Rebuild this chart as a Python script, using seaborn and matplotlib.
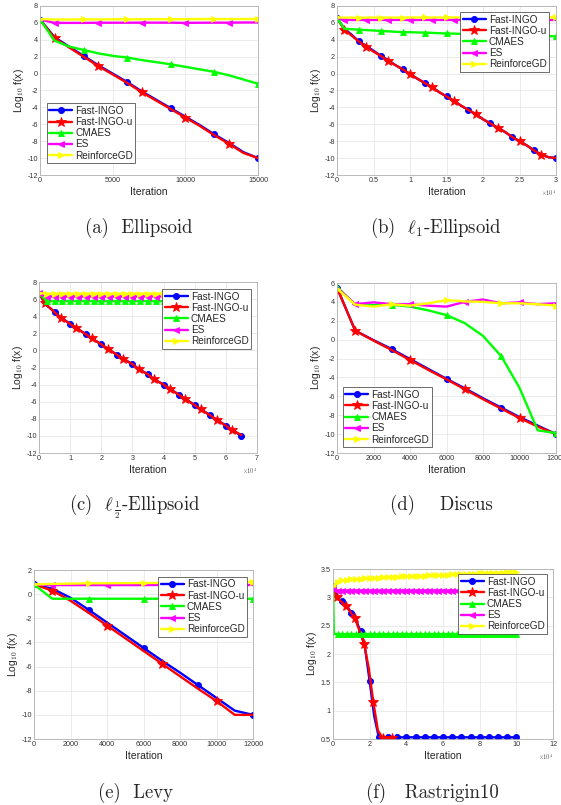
import matplotlib
matplotlib.use("Agg")
import matplotlib.pyplot as plt
import matplotlib.ticker as mticker
import seaborn as sns

# ── Data ─────────────────────────────────────────────────────────────
NAMES = ["Fast-INGO", "Fast-INGO-u", "CMAES", "ES", "ReinforceGD"]

# (a) Ellipsoid
A_ITER = [0, 1000, 2000, 3000, 4000, 5000, 6000, 7000, 8000, 9000, 10000,
          11000, 12000, 13000, 14000, 15000]
A_FAST = [6.4, 4.3, 3.2, 2.1, 1.0, 0.0, -1.0, -2.1, -3.1, -4.1, -5.1, -6.1,
          -7.2, -8.2, -9.3, -10.0]
A_FASTU = [6.4, 4.2, 3.1, 2.0, 0.9, -0.1, -1.1, -2.2, -3.2, -4.2, -5.2, -6.2,
           -7.3, -8.3, -9.4, -10.0]
A_CMAES = [6.4, 3.9, 3.2, 2.8, 2.4, 2.1, 1.9, 1.6, 1.35, 1.1, 0.8, 0.5, 0.2,
           -0.2, -0.7, -1.2]
A_ES = [6.4, 6.0, 6.0, 6.0, 6.02, 6.02, 6.02, 6.03, 6.03, 6.03, 6.0, 6.02,
        6.03, 6.03, 6.05, 6.05]
A_RGD = [6.45, 6.4, 6.4, 6.42, 6.42, 6.43, 6.43, 6.43, 6.44, 6.44, 6.44,
         6.45, 6.45, 6.45, 6.46, 6.46]

# (b) l1-Ellipsoid
B_ITER = [0, 1000, 2000, 3000, 4000, 5000, 6000, 7000, 8000, 9000, 10000,
          11000, 12000, 13000, 14000, 15000, 16000, 17000, 18000, 19000,
          20000, 21000, 22000, 23000, 24000, 25000, 26000, 27000, 28000,
          29000, 30000]
B_FAST = [6.6, 5.3, 4.6, 3.8, 3.3, 2.7, 2.1, 1.6, 1.0, 0.5, -0.1, -0.6, -1.1,
          -1.6, -2.2, -2.7, -3.2, -3.8, -4.3, -4.8, -5.4, -5.9, -6.4, -6.9,
          -7.5, -8.0, -8.5, -9.1, -9.6, -9.9, -10.0]
B_FASTU = [6.6, 5.2, 4.5, 3.8, 3.2, 2.6, 2.1, 1.5, 1.0, 0.5, 0.0, -0.6, -1.1,
           -1.6, -2.2, -2.7, -3.2, -3.8, -4.3, -4.8, -5.4, -5.9, -6.4, -6.9,
           -7.5, -8.0, -8.5, -9.1, -9.6, -9.9, -10.0]
B_CMAES = [6.6, 5.3, 5.25, 5.2, 5.15, 5.1, 5.05, 5.0, 4.95, 4.9, 4.9, 4.87,
           4.85, 4.82, 4.78, 4.75, 4.73, 4.7, 4.68, 4.66, 4.64, 4.62, 4.6,
           4.58, 4.56, 4.54, 4.52, 4.5, 4.47, 4.44, 4.4]
B_ES = [6.6, 6.35, 6.35, 6.35, 6.35, 6.35, 6.35, 6.35, 6.35, 6.35, 6.35,
        6.35, 6.35, 6.35, 6.35, 6.35, 6.35, 6.35, 6.35, 6.35, 6.35, 6.35,
        6.35, 6.35, 6.35, 6.35, 6.35, 6.35, 6.35, 6.35, 6.35]
B_RGD = [6.65, 6.62, 6.62, 6.62, 6.62, 6.63, 6.63, 6.63, 6.63, 6.63, 6.64,
         6.64, 6.64, 6.64, 6.64, 6.64, 6.65, 6.65, 6.65, 6.65, 6.65, 6.65,
         6.65, 6.66, 6.66, 6.66, 6.66, 6.66, 6.66, 6.66, 6.66]

# (c) l_{1/2}-Ellipsoid
C_ITER = [0, 2000, 5000, 7000, 10000, 12000, 15000, 17000, 20000, 22000,
          25000, 27000, 30000, 32000, 35000, 37000, 40000, 42000, 45000,
          47000, 50000, 52000, 55000, 57000, 60000, 62000, 65000]
C_FAST = [6.7, 5.4, 4.5, 3.85, 3.1, 2.6, 1.9, 1.4, 0.7, 0.2, -0.5, -1.0,
          -1.6, -2.2, -2.8, -3.4, -4.0, -4.5, -5.2, -5.7, -6.4, -6.9, -7.6,
          -8.1, -8.8, -9.3, -10.0]
C_FASTU = [6.7, 5.5, 4.45, 3.8, 3.1, 2.6, 1.9, 1.4, 0.7, 0.2, -0.5, -1.0,
           -1.6, -2.2, -2.8, -3.4, -4.0, -4.5, -5.2, -5.7, -6.4, -6.9, -7.6,
           -8.1, -8.8, -9.3, -9.9]
C_ITER_FLAT = [0, 2500, 5000, 7500, 10000, 12500, 15000, 17500, 20000, 22500,
               25000, 27500, 30000, 32500, 35000, 37500, 40000, 42500, 45000,
               47500, 50000, 52500, 55000, 57500, 60000, 62500, 65000]
C_CMAES = [6.7, 5.75, 5.75, 5.75, 5.75, 5.75, 5.75, 5.75, 5.75, 5.75, 5.75,
           5.75, 5.75, 5.75, 5.75, 5.75, 5.75, 5.75, 5.75, 5.75, 5.75, 5.75,
           5.75, 5.75, 5.75, 5.75, 5.75]
C_ES = [6.7, 6.3, 6.3, 6.3, 6.3, 6.3, 6.3, 6.3, 6.3, 6.3, 6.3, 6.3, 6.3, 6.3,
        6.3, 6.3, 6.3, 6.3, 6.3, 6.3, 6.3, 6.3, 6.3, 6.3, 6.3, 6.3, 6.3]
C_RGD = [6.7, 6.65, 6.65, 6.65, 6.65, 6.65, 6.65, 6.65, 6.65, 6.65, 6.65,
         6.65, 6.65, 6.65, 6.65, 6.65, 6.65, 6.65, 6.65, 6.65, 6.65, 6.65,
         6.65, 6.65, 6.65, 6.65, 6.65]

# (d) Discus
D_ITER = [0, 1000, 2000, 3000, 4000, 5000, 6000, 7000, 8000, 9000, 10000,
          11000, 12000]
D_FAST = [5.5, 0.95, -0.05, -1.0, -2.05, -3.1, -4.15, -5.15, -6.2, -7.2,
          -8.2, -9.1, -10.0]
D_FASTU = [5.5, 0.95, -0.1, -1.1, -2.15, -3.2, -4.2, -5.25, -6.3, -7.3,
           -8.3, -9.2, -10.0]
D_CMAES = [5.6, 3.7, 3.65, 3.7, 3.5, 3.1, 2.6, 1.75, 0.4, -1.75, -5.1, -9.6,
           -9.9]
D_ES = [5.5, 3.75, 3.95, 3.75, 3.75, 3.6, 3.5, 4.0, 4.25, 3.85, 3.95, 3.75,
        3.85]
D_RGD = [5.4, 3.7, 3.5, 3.75, 3.6, 3.85, 4.2, 4.05, 4.0, 3.85, 3.85, 3.75,
         3.6]

# (e) Levy
E_ITER = [0, 1000, 2000, 3000, 4000, 5000, 6000, 7000, 8000, 9000, 10000,
          11000, 12000]
E_FAST = [0.8, 0.45, -0.3, -1.3, -2.35, -3.4, -4.45, -5.5, -6.5, -7.55,
          -8.6, -9.65, -10.0]
E_FASTU = [0.8, 0.3, -0.55, -1.55, -2.6, -3.65, -4.7, -5.75, -6.8, -7.85,
           -8.85, -10.0, -10.0]
E_CMAES = [0.8, -0.38, -0.38, -0.38, -0.38, -0.38, -0.38, -0.38, -0.38,
           -0.38, -0.38, -0.38, -0.38]
E_ES = [0.8, 0.75, 0.75, 0.75, 0.75, 0.75, 0.75, 0.76, 0.76, 0.76, 0.76,
        0.76, 0.76]
E_RGD = [0.8, 0.85, 0.87, 0.9, 0.9, 0.91, 0.92, 0.93, 0.94, 0.95, 0.97,
         0.99, 1.02]

# (f) Rastrigin10
F_ITER = [0, 2500, 5000, 7500, 10000, 12500, 15000, 17500, 20000, 22500,
          25000, 27500, 30000, 32500, 35000, 37500, 40000, 42500, 45000,
          47500, 50000, 52500, 55000, 57500, 60000, 62500, 65000, 67500,
          70000, 72500, 75000, 77500, 80000, 82500, 85000, 87500, 90000,
          92500, 95000, 97500, 100000]
F_FAST = [3.2, 2.97, 2.93, 2.85, 2.73, 2.6, 2.4, 2.1, 1.52, 0.9, 0.53, 0.53,
          0.53, 0.53, 0.53, 0.53, 0.53, 0.53, 0.53, 0.53, 0.53, 0.53, 0.53,
          0.53, 0.53, 0.53, 0.53, 0.53, 0.53, 0.53, 0.53, 0.53, 0.53, 0.53,
          0.53, 0.53, 0.53, 0.53, 0.53, 0.53, 0.53]
F_ITER_U = [0, 2000, 7000, 12000, 17000, 19500, 22000, 24500, 27000, 32000]
F_FASTU = [3.15, 3.0, 2.85, 2.63, 2.18, 1.75, 1.15, 0.65, 0.52, 0.52]
F_ITER_CMA = [0, 500, 2500, 5000, 7500, 10000, 12500, 15000, 17500, 20000,
              22500, 25000, 27500, 30000, 32500, 35000, 37500, 40000, 42500,
              45000, 47500, 50000, 52500, 55000, 57500, 60000, 62500, 65000,
              67500, 70000, 72500, 75000, 77500, 80000, 82500, 85000, 87500,
              90000, 92500, 95000, 97500, 100000]
F_CMAES = [3.2, 2.35, 2.35, 2.35, 2.35, 2.35, 2.35, 2.35, 2.35, 2.35, 2.35,
           2.35, 2.35, 2.35, 2.35, 2.35, 2.35, 2.35, 2.35, 2.35, 2.35, 2.35,
           2.35, 2.35, 2.35, 2.35, 2.35, 2.35, 2.35, 2.35, 2.35, 2.35, 2.35,
           2.35, 2.35, 2.35, 2.35, 2.35, 2.35, 2.35, 2.35, 2.35]
F_ES = [3.15, 3.12, 3.12, 3.12, 3.12, 3.12, 3.12, 3.12, 3.12, 3.12, 3.12,
        3.12, 3.12, 3.12, 3.12, 3.12, 3.12, 3.12, 3.12, 3.12, 3.12, 3.12,
        3.12, 3.12, 3.12, 3.12, 3.12, 3.12, 3.12, 3.12, 3.12, 3.12, 3.12,
        3.12, 3.12, 3.12, 3.12, 3.12, 3.12, 3.12, 3.12]
F_RGD = [3.2, 3.27, 3.3, 3.31, 3.32, 3.325, 3.33, 3.335, 3.34, 3.345, 3.35,
         3.355, 3.36, 3.362, 3.365, 3.368, 3.37, 3.373, 3.376, 3.38, 3.383,
         3.386, 3.39, 3.393, 3.396, 3.4, 3.403, 3.406, 3.41, 3.413, 3.416,
         3.42, 3.423, 3.426, 3.43, 3.432, 3.435, 3.437, 3.44, 3.442, 3.445]

# ── Styling ──────────────────────────────────────────────────────────
STYLE = {
    "Fast-INGO":   ("#0000FF", "o", 4.4),
    "Fast-INGO-u": ("#FF0000", "*", 7.0),
    "CMAES":       ("#00FF00", "^", 4.8),
    "ES":          ("#FF00FF", "<", 4.8),
    "ReinforceGD": ("#FFFF00", ">", 4.8),
}

sns.set_theme(style="whitegrid")
plt.rcParams.update({
    "font.family": ["Liberation Sans", "DejaVu Sans"],
    "axes.unicode_minus": False,
    "mathtext.fontset": "cm",
    "axes.edgecolor": "#b0b0b0",
    "axes.linewidth": 0.6,
    "grid.color": "#e3e3e3",
    "grid.linewidth": 0.5,
    "xtick.color": "#333333",
    "ytick.color": "#333333",
    "xtick.major.pad": 1.5,
    "ytick.major.pad": 1.5,
})

W, H = 561, 805
fig = plt.figure(figsize=(W / 100, H / 100), dpi=100)


def make_ax(left, top, right, bottom):
    return fig.add_axes([left / W, 1 - bottom / H, (right - left) / W,
                         (bottom - top) / H])


def draw(ax, series, xlim, ylim, yticks, xticks, scale=1.0, legend=None):
    for name, x, y, every in series:
        c, m, ms = STYLE[name]
        sns.lineplot(x=x, y=y, ax=ax, color=c, marker=m, markevery=every,
                     markersize=ms, markeredgecolor=c, markeredgewidth=0.6,
                     linewidth=1.7, label=name, sort=False, estimator=None)
    ax.set_xlim(*xlim)
    ax.set_ylim(*ylim)
    ax.set_xticks(xticks)
    ax.set_yticks(yticks)
    ax.xaxis.set_major_formatter(
        mticker.FuncFormatter(lambda v, p: f"{v / scale:g}"))
    ax.yaxis.set_major_formatter(mticker.FuncFormatter(lambda v, p: f"{v:g}"))
    ax.tick_params(labelsize=5.2, length=0)
    ax.set_xlabel("Iteration", fontsize=7.5, labelpad=2)
    ax.set_ylabel(r"Log$_{10}$ f(x)", fontsize=7.5, labelpad=1)
    if scale != 1.0:
        ax.text(1.0, -0.075, r"$\times10^{4}$", transform=ax.transAxes,
                ha="right", va="top", fontsize=4.5, color="#555555")
    loc, anchor = legend
    leg = ax.legend(loc=loc, bbox_to_anchor=anchor, borderaxespad=0,
                    fontsize=7.2, labelspacing=0.12, handlelength=2.3,
                    handletextpad=0.3, borderpad=0.25, fancybox=False,
                    framealpha=1, edgecolor="#333333")
    leg.get_frame().set_linewidth(0.5)


def caption(x, y, text):
    fig.text(x / W, 1 - y / H, text, ha="center", va="center",
             fontsize=13.5, family="cmr10")


# (a)
ax = make_ax(40, 6, 258, 175)
draw(ax, [("Fast-INGO", A_ITER, A_FAST, (0, 3)),
          ("Fast-INGO-u", A_ITER, A_FASTU, (1, 3)),
          ("CMAES", A_ITER, A_CMAES, (0, 3)),
          ("ES", A_ITER, A_ES, (1, 3)),
          ("ReinforceGD", A_ITER, A_RGD, (0, 3))],
     (0, 15000), (-12, 8), range(-12, 9, 2), [0, 5000, 10000, 15000],
     legend=("lower left", (0.03, 0.07)))

# (b)
ax = make_ax(337, 6, 556, 175)
draw(ax, [("Fast-INGO", B_ITER, B_FAST, (0, 3)),
          ("Fast-INGO-u", B_ITER, B_FASTU, (1, 3)),
          ("CMAES", B_ITER, B_CMAES, (0, 3)),
          ("ES", B_ITER, B_ES, (1, 3)),
          ("ReinforceGD", B_ITER, B_RGD, (0, 3))],
     (0, 30000), (-12, 8), range(-12, 9, 2),
     [0, 5000, 10000, 15000, 20000, 25000, 30000], scale=1e4,
     legend=("upper right", (0.968, 0.964)))

# (c)
ax = make_ax(39, 282, 257, 453)
draw(ax, [("Fast-INGO", C_ITER, C_FAST, (2, 2)),
          ("Fast-INGO-u", C_ITER, C_FASTU, (1, 2)),
          ("CMAES", C_ITER_FLAT, C_CMAES, 1),
          ("ES", C_ITER_FLAT, C_ES, 1),
          ("ReinforceGD", C_ITER_FLAT, C_RGD, 1)],
     (0, 70000), (-12, 8), range(-12, 9, 2),
     [0, 10000, 20000, 30000, 40000, 50000, 60000, 70000], scale=1e4,
     legend=("upper right", (0.972, 0.959)))

# (d)
ax = make_ax(337, 283, 556, 453)
draw(ax, [("Fast-INGO", D_ITER, D_FAST, (0, 3)),
          ("Fast-INGO-u", D_ITER, D_FASTU, (1, 3)),
          ("CMAES", D_ITER, D_CMAES, (0, 3)),
          ("ES", D_ITER, D_ES, (1, 3)),
          ("ReinforceGD", D_ITER, D_RGD, (0, 3))],
     (0, 12000), (-12, 6), range(-12, 7, 2),
     [0, 2000, 4000, 6000, 8000, 10000, 12000],
     legend=("lower left", (0.027, 0.035)))

# (e)
ax = make_ax(34, 570, 253, 739)
draw(ax, [("Fast-INGO", E_ITER, E_FAST, (0, 3)),
          ("Fast-INGO-u", E_ITER, E_FASTU, (1, 3)),
          ("CMAES", E_ITER, E_CMAES, (0, 3)),
          ("ES", E_ITER, E_ES, (1, 3)),
          ("ReinforceGD", E_ITER, E_RGD, (0, 3))],
     (0, 12000), (-12, 2), range(-12, 3, 2),
     [0, 2000, 4000, 6000, 8000, 10000, 12000],
     legend=("upper right", (0.973, 0.959)))

# (f)
ax = make_ax(333, 569, 553, 739)
draw(ax, [("Fast-INGO", F_ITER, F_FAST, (0, 2)),
          ("Fast-INGO-u", F_ITER_U, F_FASTU, [1, 2, 3, 4, 6, 8, 9]),
          ("CMAES", F_ITER_CMA, F_CMAES, [0] + list(range(2, 42))),
          ("ES", F_ITER, F_ES, 1),
          ("ReinforceGD", F_ITER, F_RGD, 1)],
     (0, 120000), (0.5, 3.5), [0.5, 1, 1.5, 2, 2.5, 3, 3.5],
     [0, 20000, 40000, 60000, 80000, 100000, 120000], scale=1e4,
     legend=("upper right", (0.973, 0.97)))

caption(139, 228, "(a)  Ellipsoid")
caption(436, 228, r"(b)  $\ell_1$-Ellipsoid")
caption(135, 507, r"(c)  $\ell_{\,\frac{1}{2}}$-Ellipsoid")
caption(441, 505, "(d)    Discus")
caption(136, 793, "(e)  Levy")
caption(432, 793, "(f)   Rastrigin10")

fig.savefig("out.png", dpi=100, facecolor="white")
